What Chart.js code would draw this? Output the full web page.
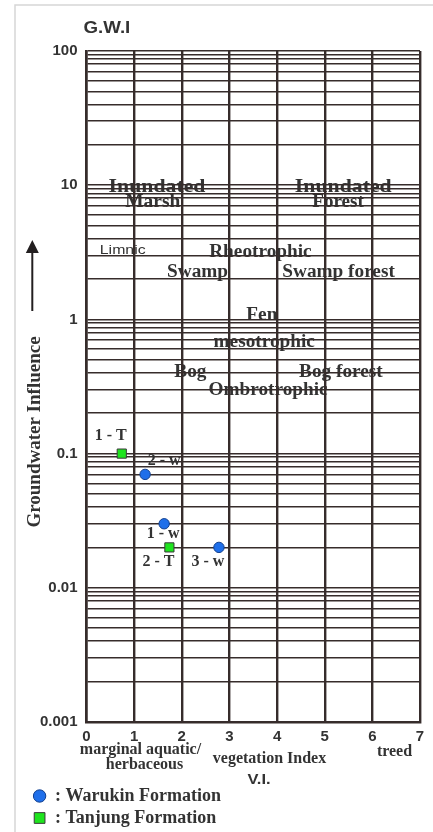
<!DOCTYPE html>
<html><head><meta charset="utf-8">
<script src="https://cdn.jsdelivr.net/npm/chart.js@4/dist/chart.umd.min.js"></script>
<style>html,body{margin:0;padding:0;background:#fff;overflow:hidden}#wrap{width:433px;height:832px;position:relative}</style>
</head><body><div id="wrap"><canvas id="c" width="433" height="832"></canvas></div>
<script>
// ---- data ----
const warukinX = [1.63, 1.23, 2.78];
const warukinY = [0.03, 0.07, 0.02];
const warukinLabels = ['1 - w', '2 - w', '3 - w'];
const tanjungX = [0.74, 1.74];
const tanjungY = [0.1, 0.02];
const tanjungLabels = ['1 - T', '2 - T'];
const xTickValues = [0, 1, 2, 3, 4, 5, 6, 7];
const yDecades = [0.001, 0.01, 0.1, 1, 10, 100];
const yDecadeLabels = ['0.001', '0.01', '0.1', '1', '10', '100'];
const gridMultipliers = [1, 2, 3, 4, 5, 6, 7, 8, 8.7, 9.4];
const zoneNames = ['Inundated', 'Marsh', 'Inundated', 'Forest', 'Limnic', 'Rheotrophic', 'Swamp', 'Swamp forest', 'Fen', 'mesotrophic', 'Bog', 'Bog forest', 'Ombrotrophic'];
const zoneX = [1.48, 1.39, 5.39, 5.28, 0.76, 3.65, 2.33, 5.29, 3.68, 3.73, 2.18, 5.34, 3.81];
const zoneY = [9.68, 7.48, 9.68, 7.48, 3.27, 3.17, 2.23, 2.23, 1.07, 0.68, 0.40, 0.40, 0.298];

// ---- styles ----
const INK = '#362c2b';
const TXT = '#333333';
const SERIF = '"Liberation Serif", "Times New Roman", serif';
const SANS = '"Liberation Sans", Arial, sans-serif';
const zoneStretch = [1.21, 1.08, 1.21, 1.06, 1.22, 1.07, 1.07, 1.07, 1.07, 1.07, 1.07, 1.07, 1.07];
const zoneFont = zoneNames.map(n => n === 'Limnic' ? '13px ' + SANS : 'bold 18px ' + SERIF);
const warukinLabelOffset = [[-1, 10], [19, -14], [-11, 14]];
const tanjungLabelOffset = [[-11, -18], [-11, 14]];

const gridValues = [];
yDecades.slice(0, -1).forEach(d => gridMultipliers.forEach(m => gridValues.push(d * m)));
gridValues.push(yDecades[yDecades.length - 1]);

const toPts = (xs, ys) => xs.map((x, i) => ({x: x, y: ys[i]}));

function txt(ctx, s, x, y, font, sx, align, color) {
  ctx.save();
  ctx.translate(x, y);
  ctx.scale(sx || 1, 1);
  ctx.font = font;
  ctx.fillStyle = color || TXT;
  ctx.textAlign = align || 'center';
  ctx.textBaseline = 'middle';
  ctx.fillText(s, 0, 0);
  ctx.restore();
}

const decor = {
  id: 'decor',
  beforeDraw(chart) {
    const ctx = chart.ctx;
    ctx.save();
    ctx.fillStyle = '#fff';
    ctx.fillRect(0, 0, chart.width, chart.height);
    ctx.strokeStyle = '#d6d6d6';
    ctx.lineWidth = 1.5;
    ctx.beginPath();
    ctx.moveTo(15, chart.height); ctx.lineTo(15, 5); ctx.lineTo(chart.width, 5);
    ctx.stroke();
    ctx.restore();
    const xs = chart.scales.x, ys = chart.scales.y;
    zoneNames.forEach((n, i) => {
      txt(ctx, n, xs.getPixelForValue(zoneX[i]), ys.getPixelForValue(zoneY[i]), zoneFont[i], zoneStretch[i]);
    });
  },
  afterDraw(chart) {
    const ctx = chart.ctx;
    const a = chart.chartArea;
    // title
    txt(ctx, 'G.W.I', a.left - 3, 29, 'bold 16px ' + SANS, 1.17, 'left');
    // y-axis title
    ctx.save();
    ctx.translate(35, 432);
    ctx.rotate(-Math.PI / 2);
    txt(ctx, 'Groundwater Influence', 0, 0, 'bold 19px ' + SERIF, 1);
    ctx.restore();
    // arrow
    ctx.save();
    ctx.strokeStyle = '#231f20'; ctx.fillStyle = '#231f20'; ctx.lineWidth = 2;
    ctx.beginPath(); ctx.moveTo(32.3, 311); ctx.lineTo(32.3, 250); ctx.stroke();
    ctx.beginPath(); ctx.moveTo(32.3, 240); ctx.lineTo(25.8, 253); ctx.lineTo(38.8, 253); ctx.closePath(); ctx.fill();
    ctx.restore();
    // x-axis captions
    txt(ctx, 'marginal aquatic/', 140.5, 750, 'bold 16px ' + SERIF, 1);
    txt(ctx, 'herbaceous', 144.5, 765, 'bold 16px ' + SERIF, 1);
    txt(ctx, 'vegetation Index', 269.5, 759, 'bold 16px ' + SERIF, 1);
    txt(ctx, 'V.I.', 259, 780, 'bold 15px ' + SANS, 1.1);
    txt(ctx, 'treed', 394.5, 752, 'bold 16px ' + SERIF, 1);
    // point labels
    const lab = (di, labels, offs) => {
      chart.getDatasetMeta(di).data.forEach((p, j) => {
        txt(ctx, labels[j], p.x + offs[j][0], p.y + offs[j][1], 'bold 16px ' + SERIF, 1);
      });
    };
    lab(0, warukinLabels, warukinLabelOffset);
    lab(1, tanjungLabels, tanjungLabelOffset);
    // legend
    chart.data.datasets.forEach((ds, i) => {
      const y = i === 0 ? 796 : 818;
      ctx.save();
      ctx.fillStyle = ds.backgroundColor; ctx.strokeStyle = ds.borderColor; ctx.lineWidth = 1;
      Chart.helpers.drawPoint(ctx, {pointStyle: ds.pointStyle, radius: i === 0 ? 6.2 : 7.6, borderWidth: 1}, 39.6, y);
      ctx.restore();
      txt(ctx, ': ' + ds.label, 55, y, 'bold 18px ' + SERIF, 1, 'left');
    });
  }
};

new Chart(document.getElementById('c'), {
  type: 'scatter',
  data: {
    datasets: [
      {label: 'Warukin Formation', data: toPts(warukinX, warukinY), pointStyle: 'circle', pointRadius: 5.2,
       backgroundColor: '#1f6fea', borderColor: '#12408f', borderWidth: 1},
      {label: 'Tanjung Formation', data: toPts(tanjungX, tanjungY), pointStyle: 'rect', pointRadius: 6.5,
       backgroundColor: '#1ee41e', borderColor: '#3a3a3a', borderWidth: 1}
    ]
  },
  options: {
    responsive: false, animation: false, devicePixelRatio: 1,
    layout: {padding: {top: 51, right: 13, bottom: 0, left: 0}},
    plugins: {legend: {display: false}, tooltip: {enabled: false}},
    scales: {
      x: {
        type: 'linear', min: 0, max: 7,
        afterFit(s) { s.height = 110; },
        afterBuildTicks(s) { s.ticks = xTickValues.map(v => ({value: v})); },
        ticks: {font: {family: SANS, weight: 'bold', size: 15}, color: TXT, padding: 6, autoSkip: false, maxRotation: 0},
        grid: {color: INK, lineWidth: 2.4, drawTicks: false},
        border: {color: INK, width: 2.6}
      },
      y: {
        type: 'logarithmic', min: 0.001, max: 100,
        afterFit(s) { s.width = 86.5; },
        afterBuildTicks(s) { s.ticks = gridValues.map(v => ({value: v})); },
        ticks: {
          callback(v) {
            const k = yDecades.findIndex(d => Math.abs(v / d - 1) < 1e-6);
            return k >= 0 ? yDecadeLabels[k] : '';
          },
          font: {family: SANS, weight: 'bold', size: 15}, color: TXT, padding: 9, autoSkip: false
        },
        grid: {color: INK, lineWidth: 1.6, drawTicks: false},
        border: {color: INK, width: 2.6}
      }
    }
  },
  plugins: [decor]
});
</script>
</body></html>
